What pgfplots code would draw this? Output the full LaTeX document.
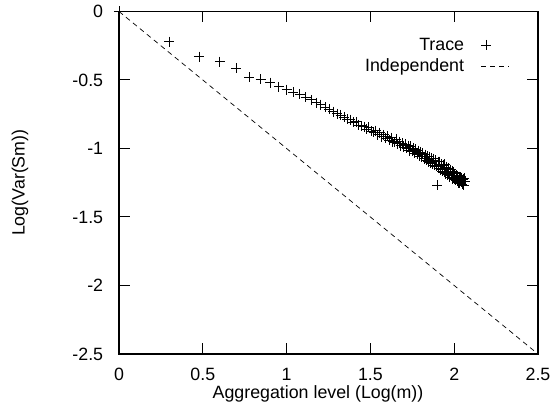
\documentclass[border=0pt]{standalone}
\usepackage{fontspec}
\setmainfont{Liberation Sans}
\usepackage{pgfplots}
\pgfplotsset{compat=1.18}
\pgfplotsset{
  tracelegend/.style={legend image code/.code={\draw[draw=none] (0bp,0bp) -- (28bp,0bp); \draw[mark repeat=2, mark phase=2, ##1] plot coordinates {(0bp,0bp) (5bp,0bp) (28bp,0bp)};}},
  indeplegend/.style={legend image code/.code={\draw[##1] (0bp,0bp) -- (28bp,0bp);}},
}
\pgfplotstableread{
x y
0 0
0.301 -0.22
0.477 -0.33
0.602 -0.365
0.699 -0.415
0.778 -0.48
0.845 -0.495
0.903 -0.52
0.954 -0.55
1.000 -0.57
1.041 -0.59
1.079 -0.605
1.114 -0.625
1.146 -0.645
1.176 -0.665
1.204 -0.68
1.230 -0.70
1.255 -0.715
1.279 -0.73
1.301 -0.745
1.322 -0.755
1.342 -0.77
1.362 -0.785
1.380 -0.79
1.398 -0.81
1.415 -0.805
1.431 -0.83
1.447 -0.835
1.462 -0.84
1.477 -0.86
1.491 -0.845
1.505 -0.875
1.519 -0.88
1.531 -0.87
1.544 -0.90
1.556 -0.885
1.568 -0.915
1.580 -0.90
1.591 -0.925
1.602 -0.91
1.613 -0.94
1.623 -0.92
1.633 -0.95
1.643 -0.955
1.653 -0.93
1.663 -0.965
1.672 -0.95
1.681 -0.98
1.690 -0.96
1.699 -0.99
1.708 -0.97
1.716 -1.00
1.724 -0.98
1.732 -1.015
1.740 -0.985
1.748 -1.02
1.756 -1.00
1.763 -1.035
1.771 -1.005
1.778 -1.04
1.785 -1.015
1.792 -1.055
1.799 -1.025
1.806 -1.06
1.813 -1.035
1.820 -1.075
1.826 -1.045
1.833 -1.085
1.839 -1.055
1.845 -1.095
1.851 -1.06
1.857 -1.105
1.863 -1.07
1.869 -1.11
1.875 -1.075
1.881 -1.12
1.886 -1.085
1.892 -1.13
1.898 -1.27
1.903 -1.095
1.908 -1.145
1.914 -1.095
1.919 -1.155
1.924 -1.115
1.929 -1.165
1.934 -1.12
1.940 -1.175
1.944 -1.115
1.949 -1.185
1.954 -1.135
1.959 -1.19
1.964 -1.145
1.968 -1.175
1.973 -1.21
1.978 -1.155
1.982 -1.20
1.987 -1.165
1.991 -1.22
1.996 -1.175
2.000 -1.225
2.004 -1.185
2.009 -1.23
2.013 -1.195
2.017 -1.24
2.021 -1.20
2.025 -1.25
2.029 -1.205
2.033 -1.255
2.037 -1.21
2.041 -1.245
2.045 -1.215
2.049 -1.26
2.053 -1.225
2.057 -1.27
2.061 -1.215
2.064 -1.24
}\tracedata
\pgfplotstableread{
x y
0 0
2.5 -2.5
}\indepdata
\begin{document}
\begin{tikzpicture}[font=\fontsize{17.8bp}{21bp}\selectfont]
\useasboundingbox (-119bp,-56bp) rectangle (433bp,354bp);
\begin{axis}[
  scale only axis, width=419bp, height=342.5bp,
  anchor=south west, at={(0,0)},
  xmin=0, xmax=2.5, ymin=-2.5, ymax=0,
  xtick={0,0.5,1,1.5,2,2.5}, xticklabels={0,0.5,1,1.5,2,2.5},
  ytick={-2.5,-2,-1.5,-1,-0.5,0}, yticklabels={-2.5,-2,-1.5,-1,-0.5,0},
  tick align=inside, major tick length=11bp,
  axis line style={line width=1.2bp},
  tick style={line width=1bp, black},
  xticklabel style={anchor=base, yshift=-26bp, inner sep=0pt},
  yticklabel style={anchor=east, xshift=-15.7bp, inner sep=0pt},
  xlabel={Aggregation level (Log(m))},
  ylabel={Log(Var(Sm))},
  every axis x label/.style={at={(axis description cs:0.475,-0.1285)}, anchor=base},
  every axis y label/.style={at={(axis description cs:-0.236,0.5)}, anchor=center, rotate=90},
  clip=false,
  legend plot pos=right,
  legend cell align=right,
  legend style={draw=none, fill=none, at={(rel axis cs:0.9332,0.923)}, anchor=north east,
    inner sep=0pt, row sep=7bp, column sep=17bp, nodes={inner sep=0pt}},
]
\addplot[only marks, mark=+, mark size=5bp, mark options={line width=0.8bp}, black, tracelegend]
  table[x=x,y=y] {\tracedata};
\addlegendentry{Trace}
\addplot[black, line width=0.7bp, dash pattern=on 5bp off 4bp, indeplegend]
  table[x=x,y=y] {\indepdata};
\addlegendentry{Independent}
\end{axis}
\end{tikzpicture}
\end{document}
